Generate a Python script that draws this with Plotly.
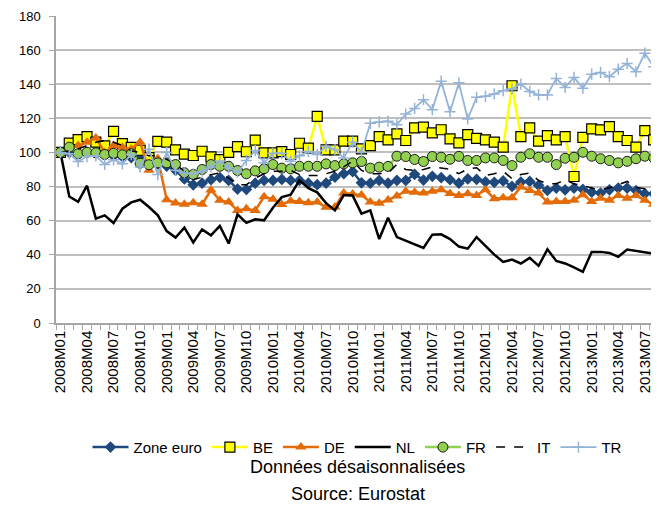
import plotly.graph_objects as go

months = [f"{y}M{m:02d}" for y in range(2008, 2014) for m in range(1, 13)][:69]

zone_euro = [100, 100, 99.5, 100, 100, 99, 98, 97.5, 97, 96.5, 96, 93,
             92, 89.5, 84.5, 81, 82, 84, 85.3, 83.6, 78.5, 78.3, 82, 83.6,
             83.6, 84.2, 83.6, 83.6, 82, 81.1, 82, 85.5, 87.5, 88.8, 82.2, 82,
             83.6, 82, 83.6, 83.6, 87.2, 83.8, 86, 85.2, 84, 82, 84.5, 84.2,
             82.8, 82.5, 83.3, 80.1, 82.6, 83, 80.7, 77.7, 79.1, 78.1, 79.1, 78.3,
             76.7, 76.2, 78.1, 79.1, 79.1, 77.7, 75.8, 75.8, 76]
be = [100, 105.5, 107.5, 109.3, 106, 103.8, 112.4, 105.2, 103, 101.3, 97, 106.5,
      106, 101.5, 99, 98.2, 100.7, 97.4, 95.8, 100, 103.4, 100.4, 107.2, 99.8,
      99.8, 100.5, 98.8, 105.4, 102.5, 121.2, 101.5, 101.5, 106.6, 106.6, 102.1, 104,
      109.3, 107.4, 110.9, 107, 114.4, 114.8, 111.5, 113.3, 107.9, 105.6, 110.5, 108.3,
      107.4, 106, 103.1, 139.1, 109.3, 114.4, 106.6, 109.9, 107.4, 109.3, 85.9, 108.8,
      113.8, 113.2, 115.1, 109.3, 107, 103.1, 112.8, 107.4, 108]
de = [100, 102.5, 104, 106, 108.5, 100, 104, 103, 102, 106, 89.5, 96.5,
      72.3, 70.3, 69.6, 70.5, 69.6, 78, 71.9, 70.9, 66, 67, 66, 74,
      72.6, 69.5, 71.6, 71.3, 70.5, 70.9, 67.8, 68, 76.2, 75.6, 75, 70.9,
      70.2, 72.1, 74.5, 77.3, 76.7, 76.2, 77.3, 78.2, 76, 74.8, 75.8, 74.8,
      78.1, 72.9, 73.5, 73.5, 79.7, 77.7, 76.2, 70.9, 71.3, 71.3, 71.9, 75.2,
      71.3, 73.2, 71.9, 74.8, 73.2, 74.8, 71.9, 69.6, 70]
nl = [100, 74.2, 71.1, 80.5, 61.2, 63.1, 58.6, 67, 70.7, 72.3, 68, 63.1,
      53.9, 50.1, 55.9, 47.2, 54.9, 51.4, 56.9, 46.6, 63.7, 58.7, 60.8, 60.2,
      67.6, 73.8, 75.2, 83.6, 79.1, 76.6, 70.3, 66, 75, 74.8, 64.1, 66,
      49.2, 61.7, 50.4, 48.3, 46.3, 44, 51.8, 52, 49.2, 44.8, 43.6, 50.4,
      45.2, 40.1, 35.8, 37.2, 34.9, 38.2, 33.5, 43.2, 36.4, 34.9, 32.6, 30,
      41.7, 41.7, 41.1, 38.8, 43.1, 42.3, 41.3, 40.7, 42]
fr = [100, 103.1, 99.2, 100.1, 99.8, 98.8, 99.5, 98.6, 99.2, 93.7, 92.8, 93.9,
      93.9, 92.9, 88.1, 87.1, 90, 92.9, 91.9, 91.9, 89.4, 87.5, 89.2, 90.4,
      92.9, 90.8, 90.4, 91.9, 91.9, 91.9, 93.3, 92.3, 93.3, 93.9, 94.7, 90.8,
      91.4, 91.8, 97.8, 97.6, 95.9, 94.7, 97.6, 97.2, 96, 97.7, 95.3, 95.3,
      96.8, 96.8, 95.3, 92.3, 97.2, 99.2, 97.2, 97.2, 92.9, 96.6, 97.2, 100.1,
      97.8, 96.3, 95.3, 93.9, 94.8, 96.3, 97.8, 96.8, 97]
it = [100, 101, 102, 104, 106, 107, 106, 104, 101, 100, 98, 98,
      96, 93, 89, 84, 85.5, 87, 88, 85, 81, 81, 85, 87.5,
      89, 89, 89.5, 87, 86.5, 86.5, 87.5, 89, 91.5, 95, 89.5, 87.5,
      87.5, 88, 93, 90, 89.5, 90, 91.5, 91, 90.2, 87.5, 90.4, 91,
      86.5, 87.5, 89, 84.6, 87.1, 87.9, 83.6, 81.6, 81.6, 84, 81.6, 80.7,
      79.1, 78.1, 79.3, 81.1, 83, 79.5, 78.7, 78.7, 78]
tr = [100, 99.2, 94.7, 97.6, 98, 93, 95.7, 93.3, 98.8, 91.4, 101.9, 87,
      100, 89.5, 88, 87.5, 89, 91.4, 95, 91, 88.5, 95.3, 101.1, 93.9,
      99.5, 99.5, 94.9, 98, 100.5, 98.8, 103.6, 101.7, 96.8, 106, 100.1, 117.1,
      117.9, 118.3, 116.3, 122.5, 125.8, 130.9, 125.1, 141.8, 123.9, 140.8, 119.6, 132.3,
      132.9, 134.3, 136.2, 137.2, 140.1, 135.8, 133.7, 133.7, 143.4, 138.1, 144, 137.7,
      145.9, 146.9, 144.4, 148.8, 152.1, 147.3, 158.2, 150.2, 163]

y_ticks = [0, 20, 40, 60, 80, 100, 120, 140, 160, 180]

x = list(range(len(months)))
label_idx = x[::3][:23]

FONT = "Liberation Sans, Arial, sans-serif"

fig = go.Figure()
fig.add_trace(go.Scatter(x=x, y=zone_euro, name="Zone euro", mode="lines+markers",
                         line=dict(color="#1F497D", width=2.5),
                         marker=dict(symbol="diamond", size=9, color="#1F497D")))
fig.add_trace(go.Scatter(x=x, y=be, name="BE", mode="lines+markers",
                         line=dict(color="#FFFF00", width=2.5),
                         marker=dict(symbol="square", size=10, color="#FFFF00",
                                     line=dict(color="#000000", width=1.2))))
fig.add_trace(go.Scatter(x=x, y=de, name="DE", mode="lines+markers",
                         line=dict(color="#E36C09", width=2.5),
                         marker=dict(symbol="triangle-up", size=10, color="#E36C09")))
fig.add_trace(go.Scatter(x=x, y=nl, name="NL", mode="lines",
                         line=dict(color="#000000", width=2.5)))
fig.add_trace(go.Scatter(x=x, y=fr, name="FR", mode="lines+markers",
                         line=dict(color="#92D050", width=2.5),
                         marker=dict(symbol="circle", size=10, color="#92D050",
                                     line=dict(color="#1a1a1a", width=1))))
fig.add_trace(go.Scatter(x=x, y=it, name="IT", mode="lines",
                         line=dict(color="#000000", width=1.5, dash="dash")))
fig.add_trace(go.Scatter(x=x, y=tr, name="TR", mode="lines+markers",
                         line=dict(color="#95B3D7", width=1.8),
                         marker=dict(symbol="cross-thin", size=8,
                                     line=dict(color="#95B3D7", width=1.5))))

fig.update_layout(
    width=651, height=499,
    margin=dict(l=48, r=0, t=8, b=184),
    paper_bgcolor="white", plot_bgcolor="white",
    font=dict(family=FONT, color="#000000", size=13),
    legend=dict(orientation="h", x=0.5, xanchor="center", y=-0.405, yanchor="middle",
                font=dict(family=FONT, size=15), itemwidth=36, tracegroupgap=0),
    annotations=[
        dict(text="Données désaisonnalisées", x=0.5, xref="paper", y=-0.47, yref="paper",
             showarrow=False, font=dict(family=FONT, size=18), xanchor="center", yanchor="middle"),
        dict(text="Source: Eurostat", x=0.5, xref="paper", y=-0.558, yref="paper",
             showarrow=False, font=dict(family=FONT, size=18), xanchor="center", yanchor="middle"),
    ],
)
fig.update_xaxes(
    range=[-0.5, 67.6], showgrid=False, zeroline=False,
    tickmode="array", tickvals=label_idx, ticktext=[months[i] for i in label_idx],
    tickangle=-90, ticks="", tickfont=dict(family=FONT, size=15),
    showline=True, linecolor="#A6A6A6", linewidth=1.5,
    minor=dict(ticks="outside", tick0=-0.5, dtick=1, ticklen=5, tickcolor="#A6A6A6", tickwidth=1),
)
fig.update_yaxes(
    range=[0, 180], tickvals=y_ticks, showgrid=True, gridcolor="#BFBFBF", gridwidth=1.5,
    zeroline=False, showline=True, linecolor="#A6A6A6", linewidth=1.5,
    ticks="outside", ticklen=5, tickcolor="#A6A6A6", ticklabelstandoff=6,
    tickfont=dict(family=FONT, size=13),
)

fig.write_html("out.html")
